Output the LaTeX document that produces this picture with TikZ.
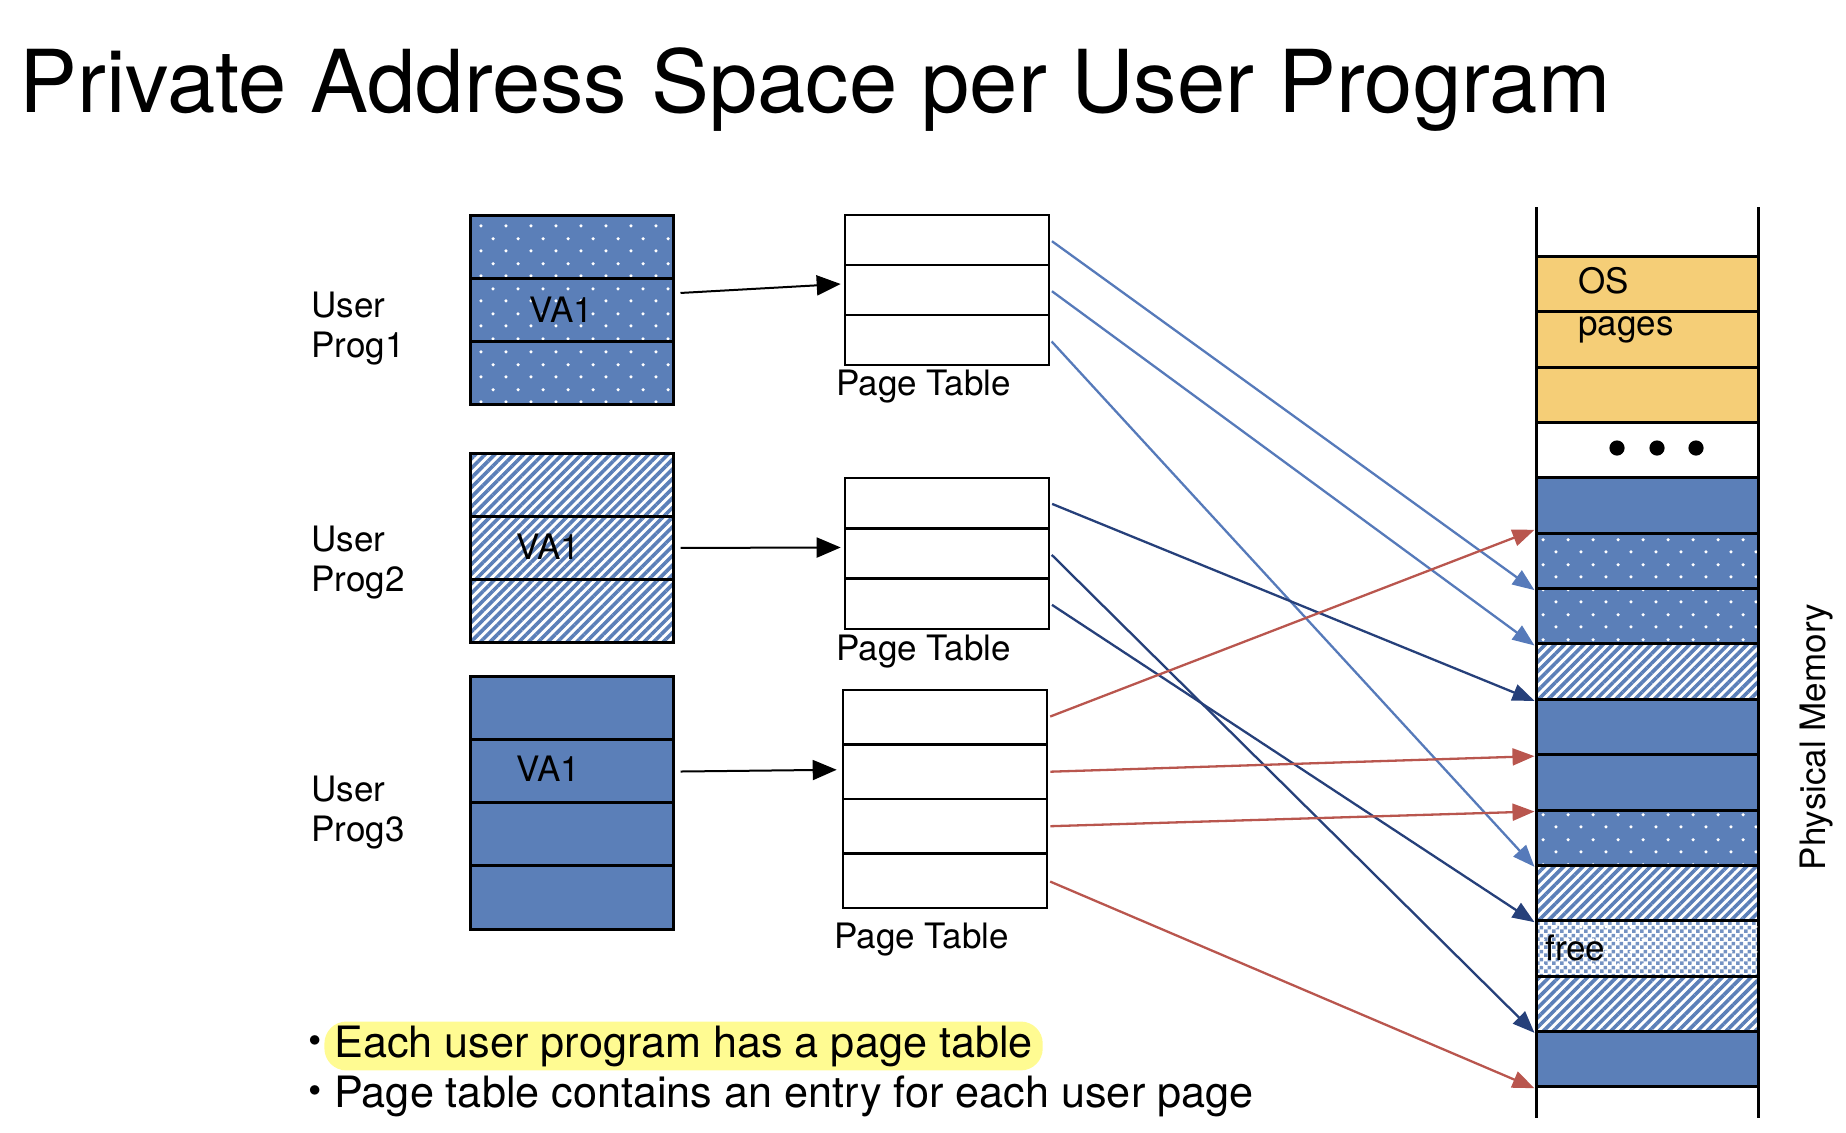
\documentclass[tikz,border=0pt]{standalone}
\usepackage{fontspec}
\setmainfont{TeX Gyre Heros}
\usetikzlibrary{arrows.meta,patterns,patterns.meta,calc}
\definecolor{pgblue}{RGB}{91,127,184}
\definecolor{lnblue}{RGB}{86,122,186}
\definecolor{lnnavy}{RGB}{38,64,122}
\definecolor{lnred}{RGB}{185,86,78}
\definecolor{osorange}{RGB}{245,206,119}
\definecolor{hilite}{RGB}{255,251,146}
\tikzdeclarepattern{name=pgdots, type=uncolored, bottom left={(0pt,0pt)}, top right={(12.5pt,12.5pt)}, tile size={(12.5pt,12.5pt)}, code={\fill (3.1pt,3.1pt) circle [radius=0.9pt]; \fill (9.35pt,9.35pt) circle [radius=0.9pt];}}
\tikzdeclarepattern{name=pgchecks, type=uncolored, bottom left={(0pt,0pt)}, top right={(4pt,4pt)}, tile size={(4pt,4pt)}, code={\fill (0pt,0pt) rectangle (2pt,2pt); \fill (2pt,2pt) rectangle (4pt,4pt);}}
\tikzset{lbl/.style={inner sep=0pt, font=\fontsize{17.5}{20}\selectfont},
pgsolid/.style={fill=pgblue}, pgdotted/.style={preaction={fill=pgblue}, pattern=pgdots, pattern color=white},
pghatch/.style={preaction={fill=white}, pattern={Lines[angle=45,distance=3.4pt,line width=1.8pt]}, pattern color=pgblue},
pgfree/.style={preaction={fill=white}, pattern=pgchecks, pattern color=pgblue!85, postaction={pattern=pgdots, pattern color=white}},
pgos/.style={fill=osorange}, pgempty/.style={fill=white},
uprow/.style={draw, line width=1.5pt, minimum width=101.5pt, minimum height=31.6pt, inner sep=0pt},
ptrow/.style={draw, line width=1.3pt, minimum width=102pt, inner sep=0pt},
pmrow/.style={draw, line width=1.5pt, minimum width=111pt, minimum height=27.67pt, inner sep=0pt},
pgarrow/.style={line width=1pt, -{Triangle[length=12pt,width=10pt]}},
pgmap/.style={line width=1.15pt, -{Triangle[length=11pt,width=8.5pt]}, shorten <=1pt},
bullet/.style={anchor=base west, inner sep=0pt, font=\fontsize{21.6}{26}\selectfont}}

\begin{document}
\begin{tikzpicture}[x=0.5pt,y=-0.5pt]
\useasboundingbox (0,0) rectangle (1846,1132);
\node[anchor=base west,inner sep=0pt,font=\fontsize{43.4}{50}\selectfont] (title) at (19,112) {Private Address Space per User Program};
% user programs
\foreach \i in {0,1,2} {
\node[uprow,pgdotted] (u1r\i) at (571.5,{215+(\i+0.5)*63.3}) {};
\node[uprow,pghatch] (u2r\i) at (571.5,{453+(\i+0.5)*63.3}) {};
}
\foreach \i in {0,...,3}
\node[uprow,pgsolid] (u3r\i) at (571.5,{677+(\i+0.5)*63}) {};
\node[lbl,align=left,anchor=north west] (l1) at (311,292) {User\\Prog1};
\node[lbl,align=left,anchor=north west] (l2) at (311,526) {User\\Prog2};
\node[lbl,align=left,anchor=north west] (l3) at (311,776) {User\\Prog3};
\node[lbl,anchor=west] (v1) at (529,310) {VA1};
\node[lbl,anchor=west] (v2) at (516,547) {VA1};
\node[lbl,anchor=west] (v3) at (516,769) {VA1};
% page tables
\foreach \i in {0,1,2} {
\node[ptrow,minimum height=25pt] (t1r\i) at (947,{215+(\i+0.5)*50}) {};
\node[ptrow,minimum height=25.2pt] (t2r\i) at (947,{478+(\i+0.5)*50.3}) {};
}
\foreach \i in {0,...,3}
\node[ptrow,minimum height=27.25pt] (t3r\i) at (945,{690+(\i+0.5)*54.5}) {};
\node[lbl,anchor=base west] (n1) at (836,395) {Page Table};
\node[lbl,anchor=base west] (n2) at (836,660) {Page Table};
\node[lbl,anchor=base west] (n3) at (834,948) {Page Table};
\draw[pgarrow] ($(u1r1.east)+(6,-17)$) -- ($(t1r1.west)+(-3,-6)$);
\draw[pgarrow] ($(u2r1.east)+(6,0)$) -- ($(t2r1.west)+(-3,-6)$);
\draw[pgarrow] ($(u3r1.east)+(6,0)$) -- ($(t3r1.west)+(-5,-2)$);
% physical memory
\draw[line width=1.5pt] (1536,207) -- (1536,1118) (1758,207) -- (1758,1118);
\foreach \s [count=\i from 0] in {pgos,pgos,pgos,pgempty,pgsolid,pgdotted,pgdotted,pghatch,pgsolid,pgsolid,pgdotted,pghatch,pgfree,pghatch,pgsolid}
\node[pmrow,\s] (m\i) at (1647,{256.6+(\i+0.5)*55.34}) {};
\node[lbl,align=left,anchor=north west,font=\fontsize{17.5}{21}\selectfont] (os) at (1578,267) {OS\\pages};
\foreach \x in {1617,1657,1696}
\fill (\x,448) circle [radius=3.8pt];
\node[lbl,anchor=west] (fr) at (1545,948) {free};
\node[lbl,rotate=90] (pm) at (1817,737) {Physical Memory};
% mappings
\foreach \a/\b in {t1r0/m5,t1r1/m6,t1r2/m10}
\draw[pgmap,lnblue] (\a.east) -- (\b.south west);
\foreach \a/\b in {t2r0/m7,t2r1/m13,t2r2/m11}
\draw[pgmap,lnnavy] (\a.east) -- (\b.south west);
\draw[pgmap,lnred] (t3r0.east) -- ($(m4.south west)+(0,-5)$);
\foreach \a/\b in {t3r1/m8,t3r2/m9,t3r3/m14}
\draw[pgmap,lnred] (\a.east) -- (\b.south west);
% notes
\node[bullet,font=\fontsize{19}{26}\selectfont] (b1) at (308,1053) {\textbullet};
\node[bullet,inner xsep=5pt,inner ysep=2pt,fill=hilite,rounded corners=11pt] (e1) at (324,1057) {Each user program has a page table};
\node[bullet,font=\fontsize{19}{26}\selectfont] (b2) at (308,1103) {\textbullet};
\node[bullet] (e2) at (334,1107) {Page table contains an entry for each user page};
\end{tikzpicture}
\end{document}
